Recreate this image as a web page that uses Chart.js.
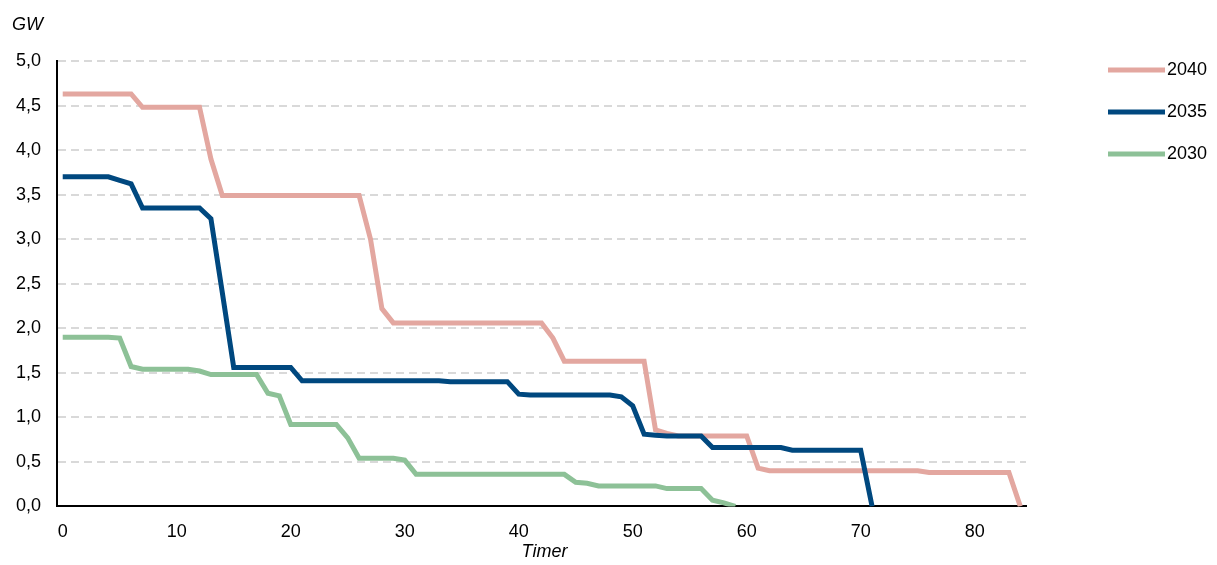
<!DOCTYPE html>
<html>
<head>
<meta charset="utf-8">
<script src="https://cdn.jsdelivr.net/npm/chart.js@4.4.1/dist/chart.umd.min.js"></script>
<style>
  html, body { margin: 0; padding: 0; background: #fff; }
  #wrap { width: 1217px; height: 565px; position: relative; }
</style>
</head>
<body>
<div id="wrap"><canvas id="chart"></canvas></div>
<script>
// hours (categories)
const hours = [
    0, 1, 2, 3, 4, 5, 6, 7, 8, 9, 10, 11, 12, 13, 14, 15, 16, 17, 18, 19,
    20, 21, 22, 23, 24, 25, 26, 27, 28, 29, 30, 31, 32, 33, 34, 35, 36, 37, 38, 39,
    40, 41, 42, 43, 44, 45, 46, 47, 48, 49, 50, 51, 52, 53, 54, 55, 56, 57, 58, 59,
    60, 61, 62, 63, 64, 65, 66, 67, 68, 69, 70, 71, 72, 73, 74, 75, 76, 77, 78, 79,
    80, 81, 82, 83, 84
];

// GW per hour
const gw2040 = [
    4.63, 4.63, 4.63, 4.63, 4.63, 4.63, 4.63, 4.48, 4.48, 4.48, 4.48, 4.48, 4.48, 3.90, 3.49, 3.49, 3.49, 3.49, 3.49, 3.49,
    3.49, 3.49, 3.49, 3.49, 3.49, 3.49, 3.49, 3.00, 2.22, 2.06, 2.06, 2.06, 2.06, 2.06, 2.06, 2.06, 2.06, 2.06, 2.06, 2.06,
    2.06, 2.06, 2.06, 1.89, 1.63, 1.63, 1.63, 1.63, 1.63, 1.63, 1.63, 1.63, 0.86, 0.82, 0.79, 0.79, 0.79, 0.79, 0.79, 0.79,
    0.79, 0.43, 0.40, 0.40, 0.40, 0.40, 0.40, 0.40, 0.40, 0.40, 0.40, 0.40, 0.40, 0.40, 0.40, 0.40, 0.38, 0.38, 0.38, 0.38,
    0.38, 0.38, 0.38, 0.38, 0
];
const gw2035 = [
    3.70, 3.70, 3.70, 3.70, 3.70, 3.66, 3.62, 3.35, 3.35, 3.35, 3.35, 3.35, 3.35, 3.23, 2.40, 1.56, 1.56, 1.56, 1.56, 1.56,
    1.56, 1.41, 1.41, 1.41, 1.41, 1.41, 1.41, 1.41, 1.41, 1.41, 1.41, 1.41, 1.41, 1.41, 1.40, 1.40, 1.40, 1.40, 1.40, 1.40,
    1.26, 1.25, 1.25, 1.25, 1.25, 1.25, 1.25, 1.25, 1.25, 1.23, 1.13, 0.81, 0.80, 0.79, 0.79, 0.79, 0.79, 0.66, 0.66, 0.66,
    0.66, 0.66, 0.66, 0.66, 0.63, 0.63, 0.63, 0.63, 0.63, 0.63, 0.63, 0
];
const gw2030 = [
    1.90, 1.90, 1.90, 1.90, 1.90, 1.89, 1.57, 1.54, 1.54, 1.54, 1.54, 1.54, 1.52, 1.48, 1.48, 1.48, 1.48, 1.48, 1.27, 1.24,
    0.92, 0.92, 0.92, 0.92, 0.92, 0.77, 0.54, 0.54, 0.54, 0.54, 0.52, 0.36, 0.36, 0.36, 0.36, 0.36, 0.36, 0.36, 0.36, 0.36,
    0.36, 0.36, 0.36, 0.36, 0.36, 0.27, 0.26, 0.23, 0.23, 0.23, 0.23, 0.23, 0.23, 0.20, 0.20, 0.20, 0.20, 0.07, 0.04, 0
];

const yTicks = [0, 0.5, 1, 1.5, 2, 2.5, 3, 3.5, 4, 4.5, 5];

const FONT = "'Liberation Sans', Arial, sans-serif";

// "GW" top left, "Timer" under the axis, legend on the right
const extras = {
    id: 'extras',
    afterDraw(chart) {
        const ctx = chart.ctx;
        const area = chart.chartArea;
        ctx.save();
        ctx.fillStyle = '#000';
        ctx.textBaseline = 'middle';

        ctx.font = "italic 18px " + FONT;
        ctx.textAlign = 'left';
        ctx.fillText('GW', 12, 25);

        ctx.textAlign = 'center';
        ctx.fillText('Timer', (area.left + area.right) / 2 + 3, 552);

        // legend, newest year first
        ctx.font = "18px " + FONT;
        ctx.textAlign = 'left';
        const sets = chart.data.datasets.slice().reverse();
        sets.forEach(function (ds, i) {
            const y = 70 + i * 42;
            ctx.fillStyle = ds.borderColor;
            ctx.fillRect(1108, y - 2.5, 57, 5);
            ctx.fillStyle = '#000';
            ctx.fillText(ds.label, 1167, y);
        });
        ctx.restore();
    }
};

function line(label, data, color) {
    return {
        label: label,
        data: data,
        borderColor: color,
        backgroundColor: color,
        borderWidth: 5,
        pointRadius: 0,
        tension: 0,
        fill: false
    };
}

// 2030 first so it is drawn on top
new Chart(document.getElementById('chart'), {
    type: 'line',
    data: {
        labels: hours,
        datasets: [
            line('2030', gw2030, '#8DC197'),
            line('2035', gw2035, '#00487F'),
            line('2040', gw2040, '#E3A7A0')
        ]
    },
    options: {
        responsive: true,
        maintainAspectRatio: false,
        animation: false,
        layout: { padding: { left: 0, top: 61, right: 191, bottom: 7 } },
        plugins: {
            tooltip: { enabled: false },
            legend: { display: false }
        },
        scales: {
            x: {
                type: 'category',
                offset: true,
                grid: { display: false, drawTicks: false },
                border: { display: true, color: '#000', width: 2 },
                ticks: {
                    autoSkip: false,
                    maxRotation: 0,
                    padding: 15,
                    color: '#000',
                    font: { family: FONT, size: 18 },
                    callback: function (v, i) { return i % 10 === 0 ? String(hours[i]) : ''; }
                }
            },
            y: {
                min: 0,
                max: 5,
                afterBuildTicks: function (axis) {
                    axis.ticks = yTicks.map(v => ({ value: v }));
                },
                grid: {
                    color: '#D9D9D9',
                    lineWidth: 2,
                    drawTicks: false
                },
                border: { display: true, color: '#000', width: 2, dash: [8, 5] },
                ticks: {
                    padding: 16,
                    color: '#000',
                    font: { family: FONT, size: 18 },
                    callback: function (v) { return v.toFixed(1).replace('.', ','); }
                }
            }
        }
    },
    plugins: [extras]
});
</script>
</body>
</html>
